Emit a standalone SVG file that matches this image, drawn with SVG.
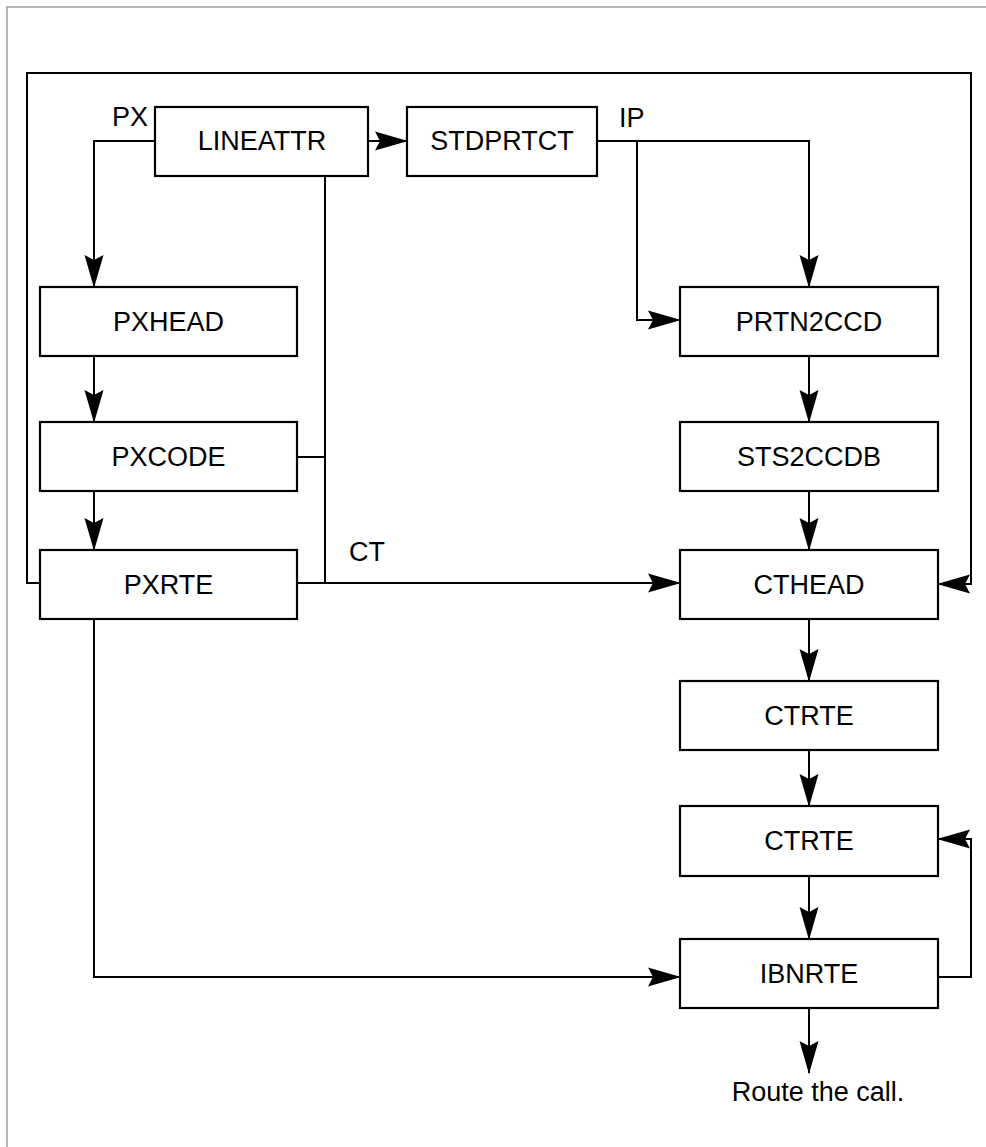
<svg xmlns="http://www.w3.org/2000/svg" width="986" height="1147" viewBox="0 0 986 1147">
<style>
.box{fill:#fff;stroke:#000;stroke-width:2.2}
.lbl{font-family:"Liberation Sans",Arial,sans-serif;font-size:27px;fill:#000;text-anchor:middle}
.tag{font-family:"Liberation Sans",Arial,sans-serif;font-size:27px;fill:#000}
.c{fill:none;stroke:#000;stroke-width:2}
.a{marker-end:url(#arr)}
</style>
<defs>
<marker id="arr" viewBox="0 0 33 20" refX="32" refY="10" markerWidth="33" markerHeight="20" markerUnits="userSpaceOnUse" orient="auto">
<path d="M0,0.5 L33,10 L0,19.5 L5,10 Z" fill="#000"/>
</marker>
</defs>
<rect x="0" y="0" width="986" height="1147" fill="#fff"/>
<rect x="7" y="7" width="1000" height="1160" fill="none" stroke="#888" stroke-width="1.2"/>
<g id="connectors">
<path class="c a" d="M155,141 H94 V287"/>
<path class="c a" d="M368,141 H407"/>
<path class="c a" d="M597,141 H809 V287"/>
<path class="c a" d="M637,141 V320 H680"/>
<path class="c a" d="M94,356 V422"/>
<path class="c a" d="M94,491 V550"/>
<path class="c" d="M325,176 V583"/>
<path class="c" d="M297,457 H325"/>
<path class="c a" d="M297,583 H680"/>
<path class="c a" d="M40,583 H27 V73 H971 V584 H938"/>
<path class="c a" d="M809,356 V422"/>
<path class="c a" d="M809,491 V550"/>
<path class="c a" d="M809,619 V681"/>
<path class="c a" d="M809,750 V806"/>
<path class="c a" d="M809,876 V939"/>
<path class="c a" d="M938,977 H971 V839 H938"/>
<path class="c a" d="M94,619 V977 H680"/>
<path class="c a" d="M809,1008 V1073"/>
</g>
<g id="labels">
<text class="tag" x="112" y="126">PX</text>
<text class="tag" x="619" y="127">IP</text>
<text class="tag" x="349" y="561">CT</text>
<text class="lbl" x="818" y="1101">Route the call.</text>
</g>
<g id="LINEATTR"><rect class="box" x="155" y="107" width="213" height="69"/><text class="lbl" x="262" y="150">LINEATTR</text></g>
<g id="STDPRTCT"><rect class="box" x="407" y="107" width="190" height="69"/><text class="lbl" x="502" y="150">STDPRTCT</text></g>
<g id="PXHEAD"><rect class="box" x="40" y="287" width="257" height="69"/><text class="lbl" x="168.5" y="331">PXHEAD</text></g>
<g id="PXCODE"><rect class="box" x="40" y="422" width="257" height="69"/><text class="lbl" x="168.5" y="466">PXCODE</text></g>
<g id="PXRTE"><rect class="box" x="40" y="550" width="257" height="69"/><text class="lbl" x="168.5" y="594">PXRTE</text></g>
<g id="PRTN2CCD"><rect class="box" x="680" y="287" width="258" height="69"/><text class="lbl" x="809" y="331">PRTN2CCD</text></g>
<g id="STS2CCDB"><rect class="box" x="680" y="422" width="258" height="69"/><text class="lbl" x="809" y="466">STS2CCDB</text></g>
<g id="CTHEAD"><rect class="box" x="680" y="550" width="258" height="69"/><text class="lbl" x="809" y="594">CTHEAD</text></g>
<g id="CTRTE1"><rect class="box" x="680" y="681" width="258" height="69"/><text class="lbl" x="809" y="725">CTRTE</text></g>
<g id="CTRTE2"><rect class="box" x="680" y="806" width="258" height="70"/><text class="lbl" x="809" y="850">CTRTE</text></g>
<g id="IBNRTE"><rect class="box" x="680" y="939" width="258" height="69"/><text class="lbl" x="809" y="983">IBNRTE</text></g>
</svg>
